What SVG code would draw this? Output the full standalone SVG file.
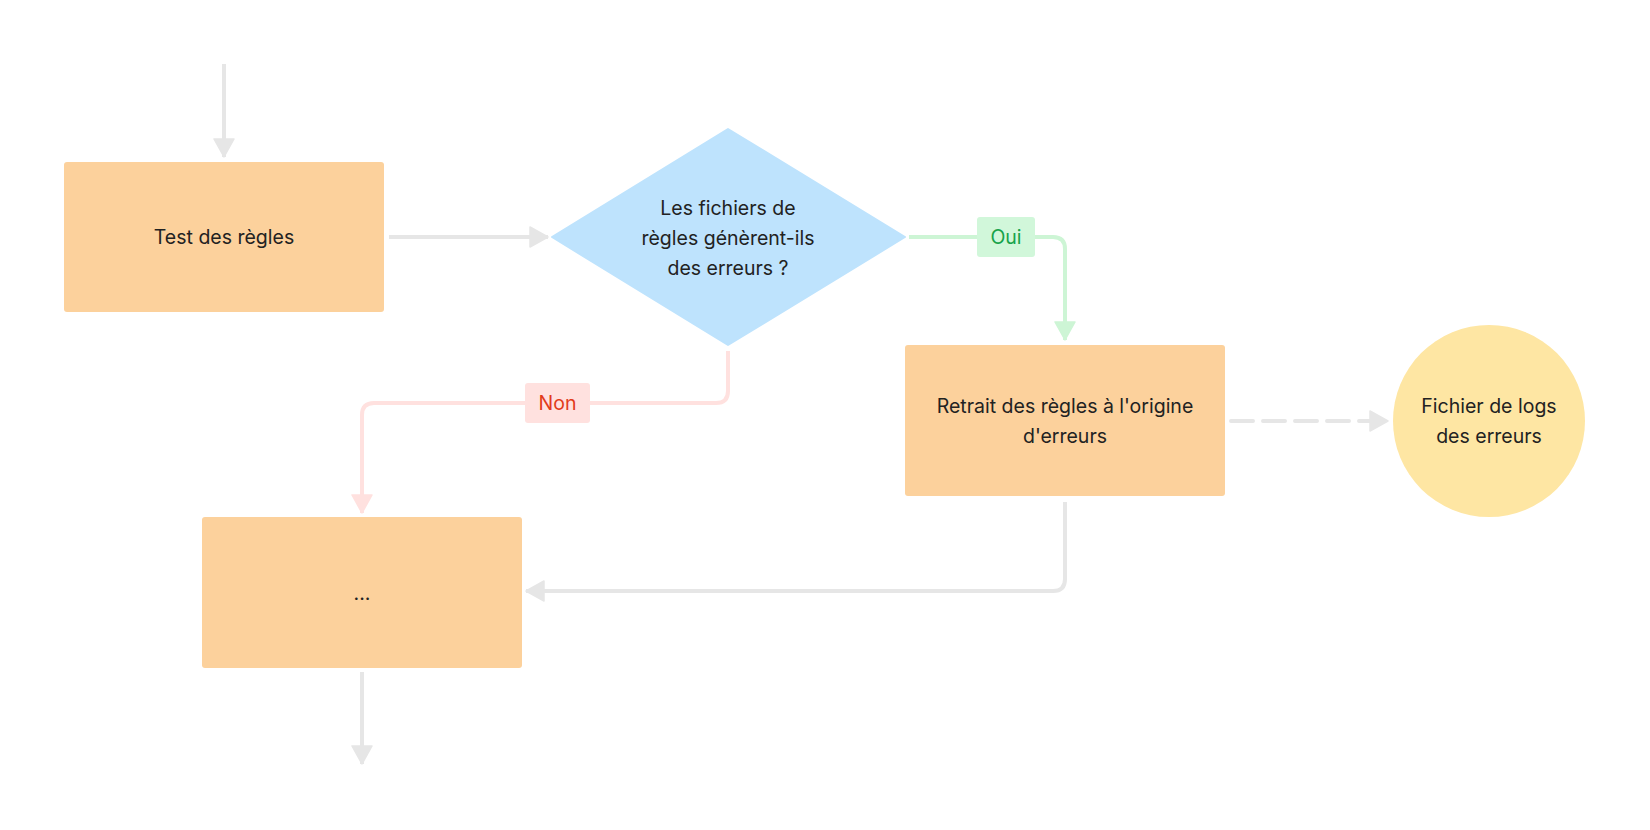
<svg xmlns="http://www.w3.org/2000/svg" width="1650" height="830" viewBox="0 0 1650 830">
<style>
.box{fill:#FCD19C}
.t{font-family:Inter,"Noto Sans","Liberation Sans",sans-serif;font-size:19.5px;font-weight:400;fill:#222222;text-anchor:middle;dominant-baseline:central}
.c{fill:none;stroke-width:4;stroke-linejoin:round}
.g{stroke:#E6E6E6}
.gr{stroke:#CDF5D5}
.rd{stroke:#FFE1DF}
</style>
<defs>
<marker id="ag" markerUnits="userSpaceOnUse" markerWidth="22" markerHeight="22" refX="18" refY="10" orient="auto" overflow="visible"><path d="M0,0 L18,10 L0,20 z" fill="#E6E6E6" stroke="#E6E6E6" stroke-width="1.5" stroke-linejoin="round"/></marker>
<marker id="agr" markerUnits="userSpaceOnUse" markerWidth="22" markerHeight="22" refX="18" refY="10" orient="auto" overflow="visible"><path d="M0,0 L18,10 L0,20 z" fill="#CDF5D5" stroke="#CDF5D5" stroke-width="1.5" stroke-linejoin="round"/></marker>
<marker id="ard" markerUnits="userSpaceOnUse" markerWidth="22" markerHeight="22" refX="18" refY="10" orient="auto" overflow="visible"><path d="M0,0 L18,10 L0,20 z" fill="#FFE1DF" stroke="#FFE1DF" stroke-width="1.5" stroke-linejoin="round"/></marker>
</defs>
<rect width="1650" height="830" fill="#FFFFFF"/>
<g id="connectors">
<path class="c g" d="M224,64 V157" marker-end="url(#ag)"/>
<path class="c g" d="M389,237 H548" marker-end="url(#ag)"/>
<path class="c gr" d="M909,237 H1053 Q1065,237 1065,249 V340" marker-end="url(#agr)"/>
<path class="c rd" d="M728,351 V391 Q728,403 716,403 H374 Q362,403 362,415 V513" marker-end="url(#ard)"/>
<path class="c g" d="M1065,502 V579 Q1065,591 1053,591 H526" marker-end="url(#ag)"/>
<path class="c g" d="M1231,421 H1388" stroke-dasharray="22 10" stroke-linecap="round" marker-end="url(#ag)"/>
<path class="c g" d="M362,672 V764" marker-end="url(#ag)"/>
<g id="label-oui">
<rect x="977" y="217" width="58" height="40" rx="3" fill="#D1F7DA"/>
<text class="t" x="1006" y="237" style="fill:#17A34A">Oui</text>
</g>
<g id="label-non">
<rect x="525" y="383" width="65" height="40" rx="3" fill="#FFE1DF"/>
<text class="t" x="557.5" y="403" style="fill:#E23C1B">Non</text>
</g>
</g>
<g id="test">
<rect class="box" x="64" y="162" width="320" height="150" rx="3"/>
<text class="t" x="224" y="237">Test des règles</text>
</g>
<g id="decision">
<path d="M728,129 L905,237 L728,345 L552,237 Z" fill="#BEE3FD" stroke="#BEE3FD" stroke-width="2" stroke-linejoin="round"/>
<text class="t" x="728" y="208">Les fichiers de</text>
<text class="t" x="728" y="238">règles génèrent-ils</text>
<text class="t" x="728" y="268">des erreurs ?</text>
</g>
<g id="retrait">
<rect class="box" x="905" y="345" width="320" height="151" rx="3"/>
<text class="t" x="1065" y="406">Retrait des règles à l'origine</text>
<text class="t" x="1065" y="436">d'erreurs</text>
</g>
<g id="logs">
<circle cx="1489" cy="421" r="96" fill="#FEE6A3"/>
<text class="t" x="1489" y="406">Fichier de logs</text>
<text class="t" x="1489" y="436">des erreurs</text>
</g>
<g id="suite">
<rect class="box" x="202" y="517" width="320" height="151" rx="3"/>
<text class="t" x="362" y="593">...</text>
</g>
</svg>
